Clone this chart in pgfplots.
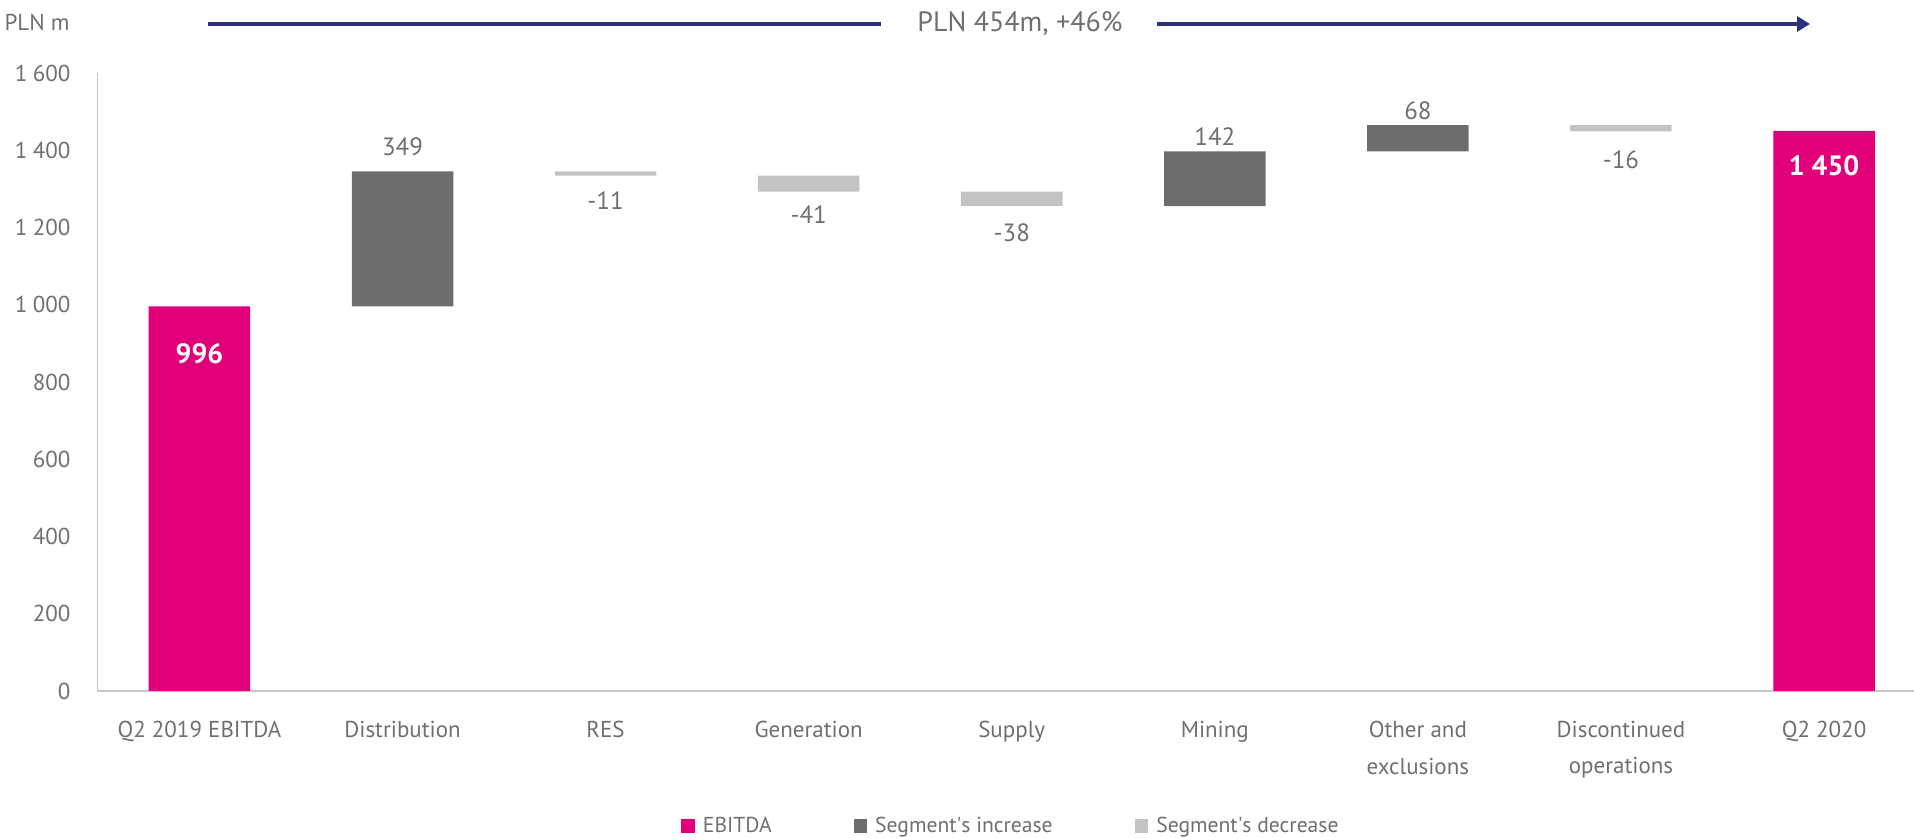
\documentclass[border=0pt]{standalone}
\usepackage{fontspec}
\setmainfont{PT Sans}
\usepackage{pgfplots}
\usepackage{pgfplotstable}
\pgfplotsset{compat=1.18}
\usetikzlibrary{arrows.meta}

\definecolor{ebitda}{HTML}{E2007A}
\definecolor{incgrey}{HTML}{6D6D6B}
\definecolor{decgrey}{HTML}{C3C3C3}
\definecolor{txtgrey}{HTML}{6F6F6F}
\definecolor{axgrey}{HTML}{C6C6C6}
\definecolor{navy}{HTML}{2B3277}

% waterfall: invisible base + one visible segment per category
% off = label shift (pt) from the middle of the visible segment
\pgfplotstableread{
x base ebitda inc dec le li ld off
0 0    996  0   0  996     {}  {}  72.7
1 996  0    349 0  {}      349 {}  46.2
2 1334 0    0   11 {}      {}  -11 -13.4
3 1293 0    0   41 {}      {}  -41 -15.7
4 1255 0    0   38 {}      {}  -38 -17.1
5 1255 0    142 0  {}      142 {}  20.9
6 1397 0    68  0  {}      68  {}  13.6
7 1449 0    0   16 {}      {}  -16 -16.0
8 0    1450 0   0  {1 450} {}  {}  122.5
}\wf

\begin{document}
\begin{tikzpicture}
\path[use as bounding box] (-48.75pt,-73.5pt) rectangle (908.25pt,345.5pt);
\begin{axis}[
  at={(0pt,0pt)}, anchor=south west,
  scale only axis, width=908.25pt, height=309pt,
  xmin=-0.502, xmax=8.443, ymin=0, ymax=1600,
  ybar stacked, bar width=0.5,
  axis lines=left,
  axis line style={-, draw=axgrey, line width=0.6pt},
  major tick length=0pt,
  ytick={0,200,...,1600},
  xtick={0,...,8},
  xticklabels={Q2 2019 EBITDA, Distribution, RES, Generation, Supply, Mining,
    {Other and\\exclusions}, {Discontinued\\operations}, Q2 2020},
  /pgf/number format/assume math mode=true,
  /pgf/number format/1000 sep={\hspace{0.24em}},
  tick label style={text=txtgrey, font=\fontsize{11.5}{18.3}\selectfont},
  xticklabel style={align=center, yshift=-11.5pt},
  yticklabel style={xshift=-10pt},
  clip=false,
  legend columns=3,
  legend style={draw=none, at={(0.5045,-0.2184)}, anchor=center,
    font=\fontsize{10.8}{12}\selectfont, text=txtgrey,
    nodes={inner xsep=4pt},
    /tikz/every even column/.append style={column sep=37pt}},
  legend image code/.code={\fill[#1] (0pt,-3.4pt) rectangle (6.8pt,3.4pt);},
  visualization depends on={\thisrow{off} \as \myoff},
  nodes near coords,
  point meta=explicit symbolic,
  every node near coord/.append style={anchor=center, yshift=\myoff pt},
]
\addplot[draw=none, fill=none, forget plot] table[x=x, y=base, meta=le] {\wf};
\addplot[draw=none, fill=ebitda,
  nodes near coords style={text=white, font=\fontsize{14}{16}\selectfont\bfseries}]
  table[x=x, y=ebitda, meta=le] {\wf};
\addplot[draw=none, fill=incgrey,
  nodes near coords style={text=txtgrey, font=\fontsize{12.5}{14}\selectfont}]
  table[x=x, y=inc, meta=li] {\wf};
\addplot[draw=none, fill=decgrey,
  nodes near coords style={text=txtgrey, font=\fontsize{12.5}{14}\selectfont}]
  table[x=x, y=dec, meta=ld] {\wf};
\legend{EBITDA, Segment\textquotesingle s increase, Segment\textquotesingle s decrease}
\end{axis}

% overall change across the period
\draw[navy, line width=1.6pt] (55pt,333.5pt) -- (391.75pt,333.5pt);
\draw[navy, line width=1.6pt, -{Triangle[length=6.5pt,width=7.5pt]}]
  (529.75pt,333.5pt) -- (856.25pt,333.5pt);
\node[text=txtgrey, font=\fontsize{14}{16}\selectfont] at (461.25pt,333.5pt) {PLN 454m, +46\%};

\node[anchor=east, inner sep=0pt, text=txtgrey, font=\fontsize{11.5}{14}\selectfont]
  at (-13.75pt,334.5pt) {PLN m};
\end{tikzpicture}
\end{document}
